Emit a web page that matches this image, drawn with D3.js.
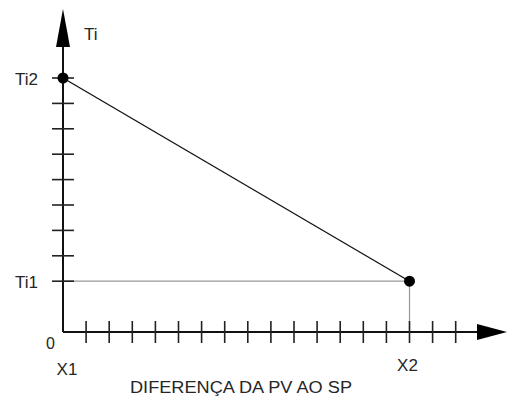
<!DOCTYPE html>
<html>
<head>
<meta charset="utf-8">
<script src="https://cdn.jsdelivr.net/npm/d3@7"></script>
<style>
body { margin: 0; background: #fff; }
svg text { font-family: "Liberation Sans", Arial, sans-serif; fill: #262626; }
</style>
</head>
<body>
<svg class="chart" width="507" height="400"></svg>
<script>
// ticks on each axis (in tick units)
var xTicks = [1, 2, 3, 4, 5, 6, 7, 8, 9, 10, 11, 12, 13, 14, 15, 16, 17];
var yTicks = [2, 3, 4, 5, 6, 7, 8, 9, 10];

// the two points of the curve
var pointX = [0, 15];
var pointY = [10, 2];
var xLabels = ["X1", "X2"];
var yLabels = ["Ti2", "Ti1"];

var xTitle = "DIFERENÇA DA PV AO SP";
var yTitle = "Ti";

var chart = d3.select(".chart");

var x = d3.scaleLinear().domain([0, 17]).range([63, 455.7]);
var y = d3.scaleLinear().domain([0, 10]).range([332, 78]);

// guide lines to X2 / Ti1
chart.append("line")
  .attr("x1", x(0)).attr("x2", x(pointX[1]))
  .attr("y1", y(pointY[1])).attr("y2", y(pointY[1]))
  .style("stroke", "#999").style("stroke-width", 1.2);
chart.append("line")
  .attr("x1", x(pointX[1])).attr("x2", x(pointX[1]))
  .attr("y1", y(pointY[1])).attr("y2", y(0))
  .style("stroke", "#999").style("stroke-width", 1.2);

// axes
chart.append("line")
  .attr("x1", x(0)).attr("x2", 480)
  .attr("y1", y(0)).attr("y2", y(0))
  .style("stroke", "#111").style("stroke-width", 2);
chart.append("line")
  .attr("x1", x(0)).attr("x2", x(0))
  .attr("y1", y(0)).attr("y2", 45)
  .style("stroke", "#111").style("stroke-width", 2);

// arrow heads
chart.append("path")
  .attr("d", "M" + x(0) + ",9 L" + (x(0) - 7) + ",47 L" + (x(0) + 7) + ",47 Z")
  .style("fill", "#000");
chart.append("path")
  .attr("d", "M507," + y(0) + " L477," + (y(0) - 8) + " L477," + (y(0) + 8) + " Z")
  .style("fill", "#000");

// ticks crossing the axes
chart.selectAll("line.xt").data(xTicks).enter().append("line")
  .attr("class", "xt")
  .attr("x1", function(d) { return x(d); })
  .attr("x2", function(d) { return x(d); })
  .attr("y1", y(0) - 11).attr("y2", y(0) + 11)
  .style("stroke", "#222").style("stroke-width", 1.6);
chart.selectAll("line.yt").data(yTicks).enter().append("line")
  .attr("class", "yt")
  .attr("x1", x(0) - 11).attr("x2", x(0) + 11)
  .attr("y1", function(d) { return y(d); })
  .attr("y2", function(d) { return y(d); })
  .style("stroke", "#222").style("stroke-width", 1.6);

// the line and its points
chart.append("line")
  .attr("x1", x(pointX[0])).attr("y1", y(pointY[0]))
  .attr("x2", x(pointX[1])).attr("y2", y(pointY[1]))
  .style("stroke", "#111").style("stroke-width", 1.3);
chart.selectAll("circle").data(pointX).enter().append("circle")
  .attr("cx", function(d) { return x(d); })
  .attr("cy", function(d, i) { return y(pointY[i]); })
  .attr("r", 5.5)
  .style("fill", "#000");

// labels
chart.selectAll("text.yl").data(yLabels).enter().append("text")
  .attr("class", "yl")
  .attr("x", 38)
  .attr("y", function(d, i) { return y(pointY[i]) + 7; })
  .attr("text-anchor", "end")
  .style("font-size", "17px")
  .text(function(d) { return d; });
chart.selectAll("text.xl").data(xLabels).enter().append("text")
  .attr("class", "xl")
  .attr("x", function(d, i) { return x(pointX[i]) + (i == 0 ? 4 : -2); })
  .attr("y", function(d, i) { return i == 0 ? 375 : 371; })
  .attr("text-anchor", "middle")
  .style("font-size", "17px")
  .text(function(d) { return d; });
chart.append("text")
  .attr("x", 50.5).attr("y", 349)
  .attr("text-anchor", "middle")
  .style("font-size", "16px")
  .text("0");
chart.append("text")
  .attr("x", 84).attr("y", 40)
  .style("font-size", "17px")
  .text(yTitle);
chart.append("text")
  .attr("x", 130).attr("y", 393)
  .attr("textLength", 222)
  .attr("lengthAdjust", "spacingAndGlyphs")
  .style("font-size", "16px")
  .text(xTitle);
</script>
</body>
</html>
